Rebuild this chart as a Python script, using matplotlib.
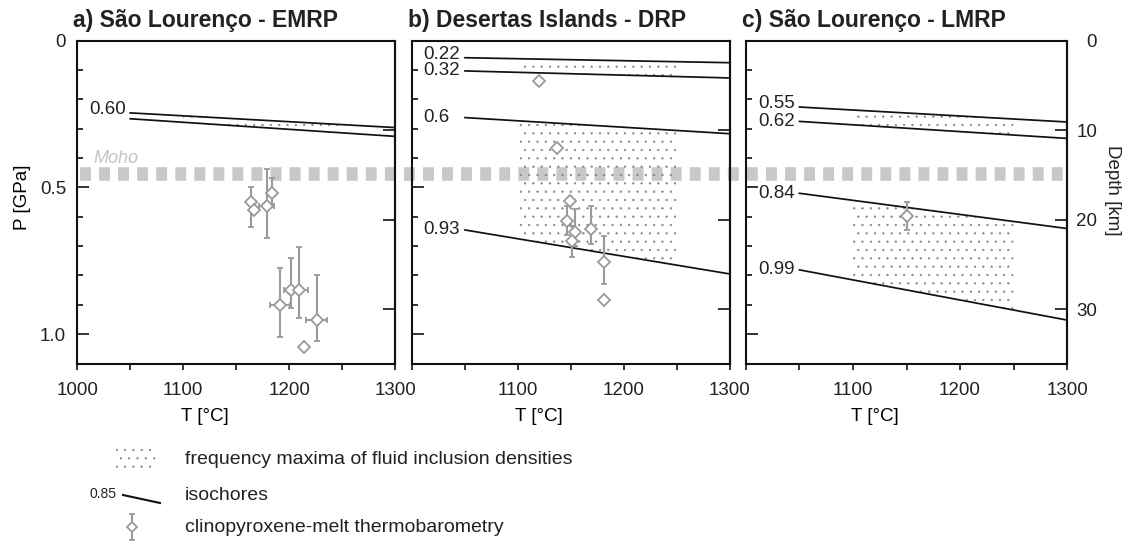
import numpy as np
import matplotlib
matplotlib.use('Agg')
import matplotlib.pyplot as plt
from matplotlib.lines import Line2D
from matplotlib.patches import Rectangle
from matplotlib.ticker import MultipleLocator
from matplotlib.transforms import blended_transform_factory

plt.rcParams['font.family'] = ['Liberation Sans', 'DejaVu Sans']
plt.rcParams['hatch.linewidth'] = 0.4
plt.rcParams['text.color'] = '#222222'

# isochores: end points at T = 1050 and 1300 °C, pressure in GPa
iso_t = [1050, 1300]
iso_a_labels = ['0.60', '']
iso_a_p = [[0.246, 0.296], [0.266, 0.326]]
iso_b_labels = ['0.22', '0.32', '0.6', '0.93']
iso_b_p = [[0.058, 0.075], [0.103, 0.127], [0.262, 0.317], [0.645, 0.795]]
iso_c_labels = ['0.55', '0.62', '0.84', '0.99']
iso_c_p = [[0.226, 0.277], [0.275, 0.333], [0.520, 0.640], [0.781, 0.952]]

# frequency maxima of fluid inclusion densities (T range, bounding isochores)
fi_t = [1100, 1250]
fi_a_pairs = [(0, 1)]
fi_b_pairs = [(0, 1), (2, 3)]
fi_c_pairs = [(0, 1), (2, 3)]

# clinopyroxene-melt thermobarometry (nan = no error bar)
nan = np.nan
cpx_a_t = [1164, 1167, 1179, 1184, 1191, 1202, 1209, 1226, 1214]
cpx_a_p = [0.548, 0.576, 0.562, 0.518, 0.901, 0.850, 0.850, 0.952, 1.043]
cpx_a_terr = [nan, nan, 7, nan, 9.5, 7, 9, 10, nan]
cpx_a_plo = [0.051, nan, 0.126, 0.051, 0.126, 0.111, 0.148, 0.153, nan]
cpx_a_phi = [0.088, nan, 0.110, 0.049, 0.108, 0.060, 0.096, 0.070, nan]

cpx_b_t = [1120, 1137, 1149, 1146, 1154, 1151, 1169, 1181, 1181]
cpx_b_p = [0.136, 0.364, 0.545, 0.615, 0.651, 0.684, 0.642, 0.753, 0.884]
cpx_b_terr = [nan] * 9
cpx_b_plo = [nan, nan, nan, 0.051, 0.076, 0.054, 0.078, 0.086, nan]
cpx_b_phi = [nan, nan, nan, 0.046, 0.050, 0.052, 0.051, 0.075, nan]

cpx_c_t = [1150]
cpx_c_p = [0.599]
cpx_c_terr = [nan]
cpx_c_plo = [0.049]
cpx_c_phi = [0.046]

moho_p = 0.455
km_per_gpa = 32.8

GREY = '#9a9a9a'
DOTS = '#858585'
INK = '#111111'
FS = 13.5
W, H = 1128, 542

fig = plt.figure(figsize=(W / 100, H / 100), dpi=100)


def px_axes(left, top, right, bottom):
    return fig.add_axes([left / W, 1 - bottom / H, (right - left) / W, (bottom - top) / H])


ax_a = px_axes(77.3, 40.7, 395, 363.5)
ax_b = px_axes(412, 40.7, 730, 363.5)
ax_c = px_axes(746, 40.7, 1067, 363.5)


def draw_panel(ax, title, labels, iso_p, pairs, t, p, terr, plo, phi, first, last):
    ax.set_facecolor('none')
    ax.set_xlim(1000, 1300)
    ax.set_ylim(1.1, 0)
    for s in ax.spines.values():
        s.set_linewidth(1.5)
        s.set_color(INK)

    # stippled fluid inclusion fields between isochores
    for i, j in pairs:
        top = np.interp(fi_t, iso_t, iso_p[i])
        bot = np.interp(fi_t, iso_t, iso_p[j])
        ax.fill_between(fi_t, top, bot, facecolor='none', edgecolor=DOTS,
                        hatch='..', linewidth=0, zorder=1)

    starts = [pp[0] for pp in iso_p]
    for k, (lab, pp) in enumerate(zip(labels, iso_p)):
        ax.plot(iso_t, pp, color=INK, lw=1.25, zorder=3)
        if lab:
            y = pp[0]
            # lift the label a little when the next isochore starts close below
            if k + 1 < len(starts) and starts[k + 1] - y < 0.06:
                y -= 0.012
            ax.text(1011, y, lab, ha='left', va='center', fontsize=FS)

    ax.errorbar(t, p, xerr=terr, yerr=[plo, phi], fmt='D', ms=5.8, mfc='white',
                mec=GREY, mew=1.3, ecolor=GREY, elinewidth=1.5, capsize=2.5,
                capthick=1.3, zorder=5)

    ax.text(-0.013, 1.043, title, transform=ax.transAxes, fontsize=16.5,
            fontweight='bold', va='baseline', ha='left')

    # temperature axis
    ax.set_xticks([1000, 1100, 1200, 1300])
    ax.set_xticklabels(['1000' if first else '', '1100', '1200', '1300'])
    ax.xaxis.set_minor_locator(MultipleLocator(50))
    ax.tick_params(axis='x', which='both', direction='out', length=4.5, width=1.2,
                   pad=9, labelsize=FS, colors=INK, labelcolor='#222222')
    ax.set_xlabel('T [°C]', fontsize=FS)
    ax.xaxis.set_label_coords(0.40, -0.138)

    # pressure axis
    ax.set_yticks([0, 0.5, 1.0])
    ax.set_yticklabels(['0', '0.5', '1.0'] if first else ['', '', ''])
    ax.yaxis.set_minor_locator(MultipleLocator(0.1))
    ax.tick_params(axis='y', which='major', direction='in', length=8.6, width=1.2,
                   pad=8, labelsize=FS, colors=INK, labelcolor='#222222')
    ax.tick_params(axis='y', which='minor', direction='in', length=4.3, width=1.2,
                   colors=INK)
    if first:
        ax.set_ylabel('P [GPa]', fontsize=FS)
        ax.yaxis.label.set(va='center', ha='center')
        ax.yaxis.set_label_coords(-0.173, 0.516)

    # depth axis
    sec = ax.secondary_yaxis('right', functions=(lambda x: x * km_per_gpa,
                                                 lambda d: d / km_per_gpa))
    sec.spines['right'].set_linewidth(1.5)
    sec.set_yticks([0, 10, 20, 30])
    sec.tick_params(axis='y', direction='in', length=8.6, width=1.2, colors=INK,
                    labelcolor='#222222', labelsize=FS, pad=21.6,
                    labelright=last)
    sec.yaxis.set_minor_locator(plt.NullLocator())
    if last:
        for lbl in sec.get_yticklabels():
            lbl.set_ha('right')


draw_panel(ax_a, 'a) São Lourenço - EMRP', iso_a_labels, iso_a_p, fi_a_pairs,
           cpx_a_t, cpx_a_p, cpx_a_terr, cpx_a_plo, cpx_a_phi, True, False)
draw_panel(ax_b, 'b) Desertas Islands - DRP', iso_b_labels, iso_b_p, fi_b_pairs,
           cpx_b_t, cpx_b_p, cpx_b_terr, cpx_b_plo, cpx_b_phi, False, False)
draw_panel(ax_c, 'c) São Lourenço - LMRP', iso_c_labels, iso_c_p, fi_c_pairs,
           cpx_c_t, cpx_c_p, cpx_c_terr, cpx_c_plo, cpx_c_phi, False, True)

fig.text(1113 / W, 1 - 190 / H, 'Depth [km]', rotation=270, fontsize=FS,
         va='center', ha='center')

# Moho, running across all three panels
ax_a.text(1015, 0.418, 'Moho', style='italic', color='#c4c4c4', fontsize=13,
          va='baseline', ha='left')
tr = blended_transform_factory(fig.transFigure, ax_a.transData)
fig.add_artist(Line2D([80 / W, 1066 / W], [moho_p, moho_p], transform=tr,
                      color='#c8c8c8', lw=9.8, dashes=(0.8, 0.6),
                      dash_capstyle='butt', zorder=-1))

# key below the panels
key = fig.add_axes([0, 0, 1, 1], zorder=3)
key.set_xlim(0, W)
key.set_ylim(H, 0)
key.axis('off')
key.add_patch(Rectangle((116, 446), 40, 25, fill=False, edgecolor=DOTS,
                        hatch='..', lw=0))
key.text(185, 460, 'frequency maxima of fluid inclusion densities', fontsize=14,
         va='center', ha='left')
key.text(117, 494, '0.85', fontsize=10, va='center', ha='right')
key.plot([123, 160], [495, 503], color=INK, lw=1.5)
key.text(185, 495, 'isochores', fontsize=14, va='center', ha='left')
key.errorbar([132], [527], yerr=[[13], [13]], fmt='D', ms=5, mfc='white',
             mec=GREY, mew=1.3, ecolor=GREY, elinewidth=1.5, capsize=2.5,
             capthick=1.3)
key.text(185, 527, 'clinopyroxene-melt thermobarometry', fontsize=14,
         va='center', ha='left')

fig.savefig('out.png', dpi=100)
